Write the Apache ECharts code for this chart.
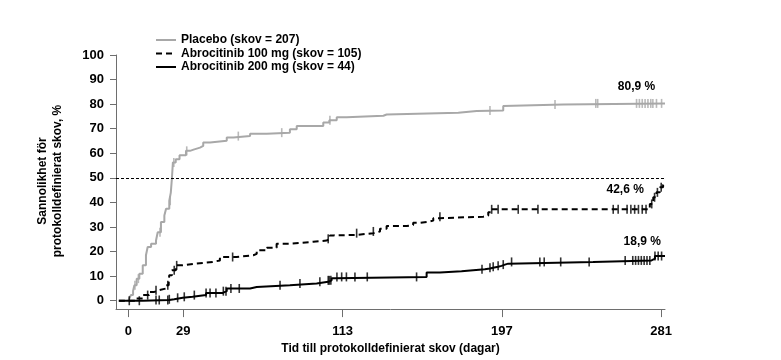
<!DOCTYPE html>
<html>
<head>
<meta charset="utf-8">
<script src="https://cdn.jsdelivr.net/npm/echarts@6/dist/echarts.min.js"></script>
<style>html,body{margin:0;padding:0;background:#fff}#c{width:781px;height:360px}</style>
</head>
<body>
<div id="c"></div>
<script>
// ---- Data ----
const seriesNames = ['Placebo (skov = 207)', 'Abrocitinib 100 mg (skov = 105)', 'Abrocitinib 200 mg (skov = 44)'];
const xTickLabels = [0, 29, 113, 197, 281];
const yTickLabels = [0, 10, 20, 30, 40, 50, 60, 70, 80, 90, 100];
const finalLabels = ['80,9 %', '42,6 %', '18,9 %'];

// Placebo step curve
const placeboDays = [0, 0.5, 1.4, 2.5, 3.2, 4.4, 5.8, 7.6, 9.3, 10.2, 12, 14.6, 15.5, 17.2, 19, 19.9, 21.6, 22.4, 23.0, 23.5, 25.0, 27.0, 30.4, 32.5, 34.8, 37.8, 39.5, 43.1, 51.9, 55.4, 64.2, 73, 85.2, 88.8, 102.8, 106, 109.9, 115.1, 134.5, 136.2, 174, 183.7, 197.7, 198.6, 229.3, 283];
const placeboVals = [0, 1, 2.3, 4, 6.3, 9, 11, 14.4, 18.5, 21.9, 23.2, 24.5, 27.9, 32, 34.7, 37.4, 40.7, 44, 50, 56.3, 57.6, 59.2, 61, 61.6, 62.3, 63, 64.4, 65.1, 66.4, 67, 68, 68.4, 69.8, 71.1, 72.5, 73.4, 74.7, 75.3, 75.8, 76.5, 77.2, 77.4, 79.2, 79.9, 80.3, 80.3];
const placeboCensor = [3.5, 5.3, 16.7, 22.1, 24.0, 30.8, 58, 80.9, 106.3, 190.7, 225, 246.5, 247.5, 268, 269.5, 271, 272.5, 274, 275.5, 276.6, 278.5, 281.2];

// Abrocitinib 100 mg step curve
const a100Days = [-5, 4, 7.6, 11, 13.7, 16.3, 19.9, 21.3, 21.6, 23, 25.1, 28.7, 35.7, 44.5, 48.3, 57.1, 65.9, 67.7, 73, 78.2, 85.2, 97.5, 104.6, 106.3, 108.1, 120.4, 129.2, 132.7, 136.2, 146.8, 150.2, 153.8, 157.3, 160.8, 164.3, 187.1, 189.8, 191.6, 275, 276.8, 278.5, 280.3, 282, 283];
const a100Vals = [0, 0.9, 2.3, 3.6, 4.3, 5, 6.3, 7.7, 10.4, 12.4, 14.4, 15.1, 15.8, 16.4, 17.8, 18.5, 19.1, 20.5, 21.6, 23.2, 24, 24.5, 25.2, 26.6, 26.8, 27.5, 28.2, 29.3, 30.4, 30.8, 31.7, 32, 32.6, 33.6, 34.2, 34.7, 36, 37.2, 39.4, 42.1, 44.1, 46.2, 47.2, 47.2];
const a100Censor = [10.2, 14.6, 20.8, 24.2, 25.5, 55, 105.4, 120.4, 129.2, 164.3, 191.6, 195, 205.6, 216, 255.7, 258.3, 263, 265, 267, 269, 271, 273, 276, 277.5, 279, 281];

// Abrocitinib 200 mg step curve
const a200Days = [-5, 7.6, 21.6, 24.2, 28.7, 33.9, 41, 49.8, 51.9, 64.2, 67.7, 85.2, 99.3, 105.4, 107.2, 109, 157.3, 164.3, 175.7, 188, 190.7, 192.4, 195, 196.8, 198.6, 200.3, 245.1, 275.9, 277.7, 283];
const a200Vals = [0, 0.3, 0.6, 1.2, 1.6, 2.3, 3.2, 3.9, 5, 5.6, 6.3, 7, 7.7, 8.3, 9.2, 9.7, 11.5, 12, 12.8, 13.1, 13.4, 13.8, 14.2, 14.7, 15.1, 15.8, 16.4, 17.1, 18.2, 18.2];
const a200Censor = [0.5, 5.8, 14.6, 16.3, 20.8, 21.6, 26, 29.5, 34.8, 41, 43.1, 46.2, 50.1, 51.5, 54.1, 58.5, 80, 90.5, 101, 105.4, 106, 106.8, 110, 112.5, 115, 119.5, 126, 152, 186.5, 190.7, 192.4, 195, 197.7, 202.1, 217, 219.3, 228, 243, 262, 266, 267.5, 269, 270.5, 272, 273.5, 275, 277.7, 279.4, 281.2];

const referenceLine = 50;

// ---- Helpers ----
function zip(d, v) { return d.map((x, i) => [x, v[i]]); }
function valueAt(d, v, t) { let r = v[0]; for (let i = 0; i < d.length; i++) { if (d[i] <= t) r = v[i]; } return r; }
function censorPts(cd, d, v) { return cd.map(t => [t, valueAt(d, v, t)]); }

const FONT = 'Liberation Sans, Arial, sans-serif';
const GRAY = '#a8a8a8';
const AXIS = '#6e6e6e';

const chart = echarts.init(document.getElementById('c'), null, { renderer: 'canvas' });
chart.setOption({
  animation: false,
  backgroundColor: '#fff',
  textStyle: { fontFamily: FONT },
  grid: { left: 116, right: 116, top: 55, bottom: 49.5 },
  legend: {
    data: seriesNames,
    orient: 'vertical',
    left: 155, top: 34, padding: 0,
    itemWidth: 20, itemHeight: 10, itemGap: 1.5,
    itemStyle: { opacity: 0 },
    textStyle: { fontFamily: FONT, fontWeight: 'bold', fontSize: 12, color: '#000' }
  },
  xAxis: {
    type: 'value', min: -6.5, max: 283,
    name: 'Tid till protokolldefinierat skov (dagar)',
    nameLocation: 'middle', nameGap: 32,
    nameTextStyle: { fontFamily: FONT, fontWeight: 'bold', fontSize: 12, color: '#000' },
    axisLine: { show: true, onZero: false, lineStyle: { color: AXIS, width: 1 } },
    axisTick: { show: true, length: 8, customValues: xTickLabels, lineStyle: { color: AXIS } },
    axisLabel: { customValues: xTickLabels, margin: 16, fontFamily: FONT, fontWeight: 'bold', fontSize: 13, color: '#000' },
    splitLine: { show: false }
  },
  yAxis: {
    type: 'value', min: -3.4, max: 100,
    axisLine: { show: true, onZero: false, lineStyle: { color: AXIS, width: 1 } },
    axisTick: { show: true, length: 6, customValues: yTickLabels, lineStyle: { color: AXIS } },
    axisLabel: { customValues: yTickLabels, margin: 12, fontFamily: FONT, fontWeight: 'bold', fontSize: 13, color: '#000' },
    splitLine: { show: false }
  },
  series: [
    {
      name: seriesNames[0], type: 'line', step: 'end', symbol: 'none',
      data: zip(placeboDays, placeboVals),
      lineStyle: { color: GRAY, width: 2 }, itemStyle: { color: GRAY }, z: 3
    },
    {
      name: seriesNames[1], type: 'line', step: 'end', symbol: 'none',
      data: zip(a100Days, a100Vals),
      lineStyle: { color: '#000', width: 2, type: [6, 4] }, itemStyle: { color: '#000' }, z: 3
    },
    {
      name: seriesNames[2], type: 'line', step: 'end', symbol: 'none',
      data: zip(a200Days, a200Vals),
      lineStyle: { color: '#000', width: 2 }, itemStyle: { color: '#000' }, z: 3,
      markLine: {
        silent: true, symbol: 'none', label: { show: false },
        lineStyle: { color: '#000', width: 1, type: [3, 2] },
        data: [{ yAxis: referenceLine }]
      }
    },
    {
      name: 'censorP', type: 'scatter', symbol: 'rect', symbolSize: [1.6, 9],
      data: censorPts(placeboCensor, placeboDays, placeboVals), itemStyle: { color: GRAY }, z: 4
    },
    {
      name: 'censor100', type: 'scatter', symbol: 'rect', symbolSize: [1.6, 9],
      data: censorPts(a100Censor, a100Days, a100Vals), itemStyle: { color: '#000' }, z: 4
    },
    {
      name: 'censor200', type: 'scatter', symbol: 'rect', symbolSize: [1.6, 9],
      data: censorPts(a200Censor, a200Days, a200Vals), itemStyle: { color: '#000' }, z: 4
    }
  ]
});

const labelPos = [[268, 87], [262, 45], [271, 24]];
const g = labelPos.map((p, i) => {
  const px = chart.convertToPixel({ gridIndex: 0 }, p);
  return {
    type: 'text', x: px[0], y: px[1],
    style: { text: finalLabels[i], font: 'bold 12px ' + FONT, fill: '#000', textAlign: 'center', textVerticalAlign: 'middle' }
  };
});
g.push({
  type: 'text', x: 50, y: 181, rotation: Math.PI / 2,
  style: { text: 'Sannolikhet för\nprotokolldefinierat skov, %', font: 'bold 12px ' + FONT, fill: '#000', textAlign: 'center', textVerticalAlign: 'middle', lineHeight: 15.5 }
});
chart.setOption({ graphic: g });
</script>
</body>
</html>
